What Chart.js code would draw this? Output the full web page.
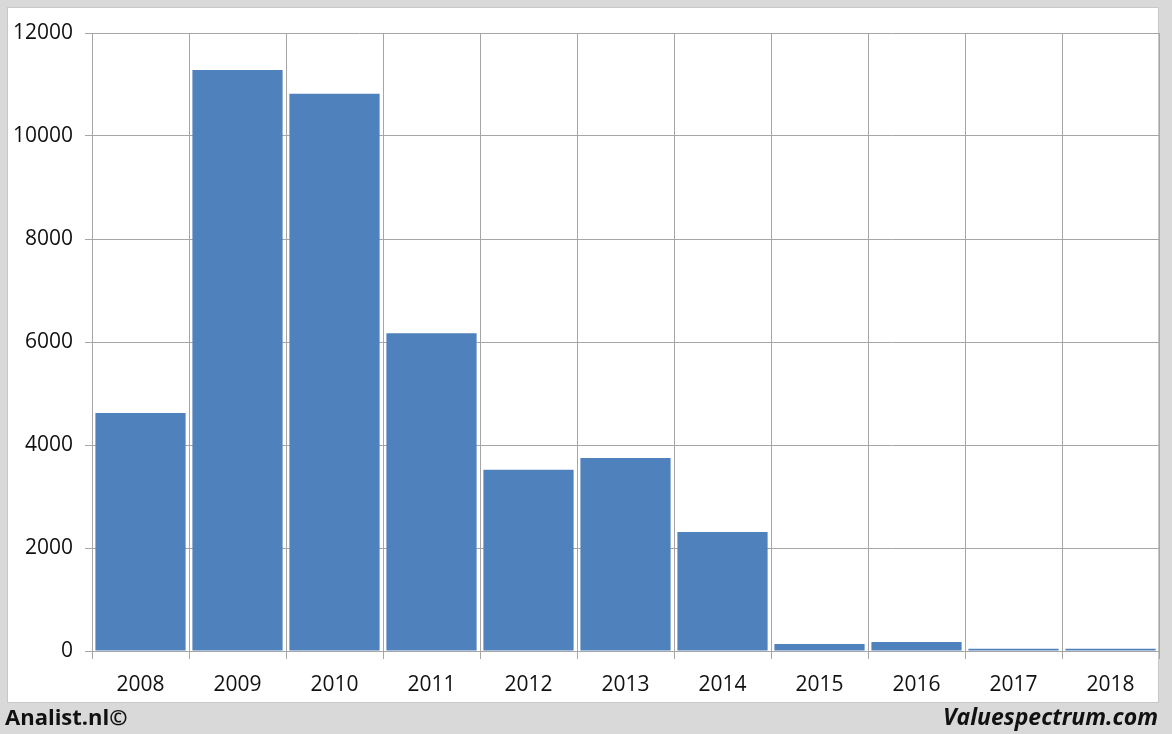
<!DOCTYPE html>
<html>
<head>
<meta charset="utf-8">
<script src="https://cdn.jsdelivr.net/npm/chart.js@4"></script>
<style>
  html, body { margin: 0; padding: 0; background: #d9d9d9; }
  #wrap { position: relative; width: 1172px; height: 734px; }
  #footL, #footR { position: absolute; top: 701px; font-family: "Open Sans", sans-serif; font-weight: bold; font-size: 22px; color: #111; }
  #footL { left: 5px; }
  #footR { right: 14px; font-style: italic; font-size: 23px; top: 700px; }
</style>
</head>
<body>
<div id="wrap">
  <canvas id="chart" width="1172" height="734"></canvas>
  <div id="footL">Analist.nl©</div>
  <div id="footR">Valuespectrum.com</div>
</div>
<script>
var years = ["2008", "2009", "2010", "2011", "2012", "2013", "2014", "2015", "2016", "2017", "2018"];
var values = [4620, 11280, 10820, 6170, 3520, 3750, 2310, 136, 175, 45, 45];
var yTicks = [0, 2000, 4000, 6000, 8000, 10000, 12000];

// white panel behind the chart
var panel = {
  id: 'panel',
  beforeDraw: function(chart) {
    var c = chart.ctx;
    c.save();
    c.fillStyle = '#ffffff';
    c.fillRect(7, 7, 1152, 696);
    c.strokeStyle = '#c8c8c8';
    c.lineWidth = 1;
    c.strokeRect(7.5, 7.5, 1151, 695);
    c.restore();
  }
};

var ctx = document.getElementById("chart").getContext('2d');
var myChart = new Chart(ctx, {
  type: 'bar',
  data: {
    labels: years,
    datasets: [{
      data: values,
      backgroundColor: "#4f81bd",
      borderWidth: 0,
      barPercentage: 0.93,
      categoryPercentage: 1.0
    }]
  },
  plugins: [panel],
  options: {
    responsive: false,
    animation: false,
    layout: { padding: { left: 7, top: 33, right: 13, bottom: 31 } },
    plugins: { legend: { display: false }, tooltip: { enabled: false } },
    scales: {
      x: {
        grid: { color: '#a6a6a6', lineWidth: 1, tickLength: 8, offset: true },
        border: { color: '#a6a6a6' },
        ticks: { color: '#111', font: { family: 'Open Sans', size: 21 }, padding: 13, maxRotation: 0 },
        afterFit: function(scale) { scale.height = 52; }
      },
      y: {
        min: 0,
        max: 12000,
        afterBuildTicks: function(scale) {
          scale.ticks = yTicks.map(function(v) { return { value: v }; });
        },
        grid: { color: '#a6a6a6', lineWidth: 1, tickLength: 7 },
        border: { color: '#a6a6a6' },
        ticks: {
          color: '#111', font: { family: 'Open Sans', size: 21 }, padding: 12,
          callback: function(v) { return String(v); }
        },
        afterFit: function(scale) { scale.width = 85; }
      }
    }
  }
});
</script>
</body>
</html>
